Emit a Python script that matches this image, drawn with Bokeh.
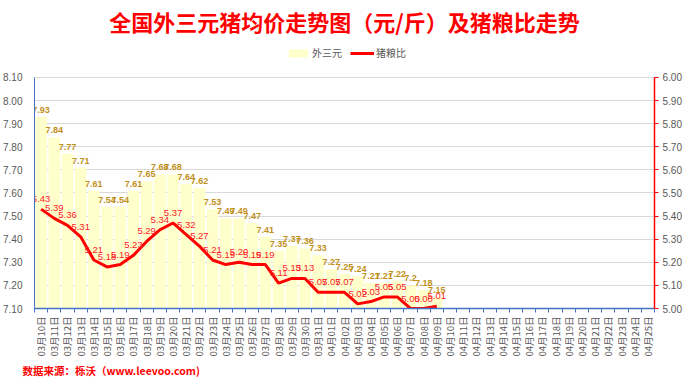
import math
from bokeh.plotting import figure
from bokeh.models import (Range1d, LinearAxis, FixedTicker, NumeralTickFormatter,
                          Legend, LegendItem, Title, ColumnDataSource)
from bokeh.core.properties import value
from bokeh.embed import file_html
from bokeh.resources import INLINE

dates = ["03月10日", "03月11日", "03月12日", "03月13日", "03月14日", "03月15日", "03月16日",
         "03月17日", "03月18日", "03月19日", "03月20日", "03月21日", "03月22日", "03月23日",
         "03月24日", "03月25日", "03月26日", "03月27日", "03月28日", "03月29日", "03月30日",
         "03月31日", "04月01日", "04月02日", "04月03日", "04月04日", "04月05日", "04月06日",
         "04月07日", "04月08日", "04月09日", "04月10日", "04月11日", "04月12日", "04月13日",
         "04月14日", "04月15日", "04月16日", "04月17日", "04月18日", "04月19日", "04月20日",
         "04月21日", "04月22日", "04月23日", "04月24日", "04月25日"]
price = [7.93, 7.84, 7.77, 7.71, 7.61, 7.54, 7.54, 7.61, 7.65, 7.68, 7.68, 7.64, 7.62,
         7.53, 7.49, 7.49, 7.47, 7.41, 7.35, 7.37, 7.36, 7.33, 7.27, 7.25, 7.24, 7.21,
         7.21, 7.22, 7.20, 7.18, 7.15]
ratio = [5.43, 5.39, 5.36, 5.31, 5.21, 5.18, 5.19, 5.23, 5.29, 5.34, 5.37, 5.32, 5.27,
         5.21, 5.19, 5.20, 5.19, 5.19, 5.11, 5.13, 5.13, 5.07, 5.07, 5.07, 5.02, 5.03,
         5.05, 5.05, 5.00, 5.00, 5.01]
price_labels = ["7.93", "7.84", "7.77", "7.71", "7.61", "7.54", "7.54", "7.61", "7.65", "7.68",
                "7.68", "7.64", "7.62", "7.53", "7.49", "7.49", "7.47", "7.41", "7.35", "7.37",
                "7.36", "7.33", "7.27", "7.25", "7.24", "7.21", "7.21", "7.22", "7.2", "7.18",
                "7.15"]
left_ticks = [7.10, 7.20, 7.30, 7.40, 7.50, 7.60, 7.70, 7.80, 7.90, 8.00, 8.10]
right_ticks = [5.00, 5.10, 5.20, 5.30, 5.40, 5.50, 5.60, 5.70, 5.80, 5.90, 6.00]

idx = list(range(len(price)))
all_idx = list(range(len(dates)))
src = ColumnDataSource(dict(x=idx, price=price, ratio=ratio,
                            plab=price_labels, rlab=["%.2f" % r for r in ratio]))

CJK = "Noto Sans CJK SC"
NUM = "Liberation Sans"
GREY = "#595959"
BLUE = "#4472C4"

# headroom above the axes' top so the legend can sit inside the frame
HEAD = 0.164
p = figure(width=684, height=379, output_backend="svg", toolbar_location=None,
           x_range=Range1d(-0.5, len(dates) - 0.5),
           y_range=Range1d(left_ticks[0], left_ticks[-1] + HEAD),
           min_border_left=28, min_border_right=30, min_border_top=38, min_border_bottom=71)
p.extra_y_ranges = {"r": Range1d(right_ticks[0], right_ticks[-1] + HEAD)}
p.outline_line_color = None
p.background_fill_color = "white"

# title
p.title.text = "全国外三元猪均价走势图（元/斤）及猪粮比走势"
p.title.align = "center"
p.title.text_color = "#FF0000"
p.title.text_font = CJK
p.title.text_font_size = "22px"
p.title.text_font_style = "bold"
p.title.standoff = 5

bars = p.vbar(x="x", top="price", bottom=left_ticks[0], width=0.88, source=src,
              fill_color="#FFFFCC", line_color=None)
line = p.line(x="x", y="ratio", source=src, y_range_name="r",
              line_color="#FF0000", line_width=3)

p.text(x="x", y="price", text="plab", source=src, text_align="center",
       text_baseline="bottom", y_offset=-4, text_font=value(NUM),
       text_font_size="9px", text_font_style="bold", text_color="#C0901A")
p.text(x="x", y="ratio", text="rlab", source=src, y_range_name="r", text_align="center",
       text_baseline="bottom", y_offset=-7, text_font=value(NUM),
       text_font_size="9.5px", text_color="#FF2020")

# axes
p.yaxis.ticker = FixedTicker(ticks=left_ticks)
p.yaxis.bounds = (left_ticks[0], left_ticks[-1])
p.yaxis.formatter = NumeralTickFormatter(format="0.00")
p.yaxis.axis_line_color = BLUE
p.yaxis.major_tick_line_color = None
p.yaxis.minor_tick_line_color = None
p.yaxis.major_label_text_color = GREY
p.yaxis.major_label_text_font = NUM
p.yaxis.major_label_text_font_size = "10px"
p.yaxis.major_label_standoff = 6

ry = LinearAxis(y_range_name="r", ticker=FixedTicker(ticks=right_ticks),
                formatter=NumeralTickFormatter(format="0.00"),
                bounds=(right_ticks[0], right_ticks[-1]))
ry.axis_line_color = "#FF0000"
ry.axis_line_width = 1.5
ry.major_tick_line_color = "#FF0000"
ry.major_tick_out = 4
ry.major_tick_in = 0
ry.minor_tick_line_color = None
ry.major_label_text_color = GREY
ry.major_label_text_font = NUM
ry.major_label_text_font_size = "10px"
ry.major_label_standoff = 4
p.add_layout(ry, "right")

p.xaxis.ticker = FixedTicker(ticks=all_idx, minor_ticks=[i - 0.5 for i in all_idx] + [len(dates) - 0.5])
p.xaxis.major_label_overrides = {i: d for i, d in zip(all_idx, dates)}
p.xaxis.major_label_orientation = math.pi / 2
p.xaxis.axis_line_color = BLUE
p.xaxis.axis_line_width = 1.5
p.xaxis.major_tick_line_color = None
p.xaxis.major_tick_out = 4
p.xaxis.minor_tick_line_color = BLUE
p.xaxis.minor_tick_out = 4
p.xaxis.minor_tick_in = 0
p.xaxis.major_label_text_color = GREY
p.xaxis.major_label_text_font = CJK
p.xaxis.major_label_text_font_size = "9.5px"
p.xaxis.major_label_standoff = 4

p.xgrid.grid_line_color = None
p.ygrid.grid_line_color = "#D9D9D9"
p.ygrid.ticker = FixedTicker(ticks=left_ticks)

legend = Legend(items=[LegendItem(label="外三元", renderers=[bars]),
                       LegendItem(label="猪粮比", renderers=[line])],
                orientation="horizontal", location=(252, 248),
                label_text_font=CJK, label_text_font_size="10px", label_text_color=GREY,
                border_line_color=None, background_fill_alpha=0, spacing=8,
                glyph_width=24, glyph_height=10, padding=2, margin=0, label_standoff=2,
                label_height=10)
p.add_layout(legend)

src_title = Title(text="数据来源：栎沃（www.leevoo.com)", align="left",
                  text_color="#FF0000", text_font=CJK, text_font_size="10.5px",
                  text_font_style="bold", offset=-12, standoff=2)
p.add_layout(src_title, "below")

open("out.html", "w").write(file_html(p, INLINE))
